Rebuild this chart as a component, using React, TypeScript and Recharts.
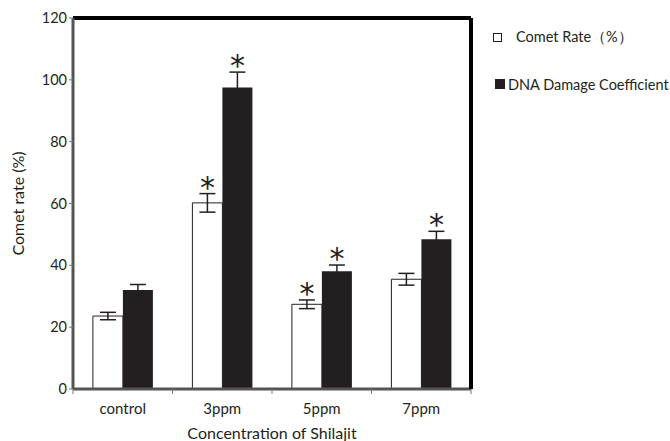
import { BarChart, Bar, XAxis, YAxis, ErrorBar, LabelList, ReferenceLine } from 'recharts';

const categories = ['control', '3ppm', '5ppm', '7ppm'];
const cometRate = [23.6, 60.2, 27.4, 35.5];
const cometErr = [1.2, 3, 1.4, 1.9];
const cometSig = [false, true, true, false];
const damage = [32, 97.5, 38.1, 48.4];
const damageErr = [1.8, 5, 2, 2.6];
const damageSig = [false, true, true, true];
const yTicks = [0, 20, 40, 60, 80, 100, 120];

const data = categories.map((name, i) => ({
  name,
  comet: cometRate[i],
  cometErr: cometErr[i],
  damage: damage[i],
  damageErr: damageErr[i],
}));

const INK = '#231f20';
const FONT = 'Lato, "Open Sans", sans-serif';
const BAND = 99.5;

const makeStar = (errs: number[], sig: boolean[]) => (props: any) => {
  const { x, y, width, height, value, index } = props;
  if (!sig[index] || value == null) return null;
  const errPx = (errs[index] * height) / value;
  return (
    <text x={x + width / 2} y={y - errPx + 4} textAnchor="middle" fontSize={30} fill={INK} fontFamily="DejaVu Sans">
      *
    </text>
  );
};

const CatTick = (props: any) => {
  const { x, y, payload, index } = props;
  return (
    <g>
      <line x1={x - BAND / 2} x2={x - BAND / 2} y1={y - 8} y2={y - 3} stroke="#777" />
      {index === categories.length - 1 && (
        <line x1={x + BAND / 2} x2={x + BAND / 2} y1={y - 8} y2={y - 3} stroke="#777" />
      )}
      <text x={x} y={y + 17} textAnchor="middle" fontSize={15} fill={INK} fontFamily={FONT}>
        {payload.value}
      </text>
    </g>
  );
};

const LegendBox = () => (
  <div style={{ position: 'absolute', left: 490, top: 28, fontFamily: FONT, fontSize: 14.5, color: INK }}>
    <div style={{ display: 'flex', alignItems: 'center', height: 18 }}>
      <span style={{ width: 7, height: 7, border: `1px solid ${INK}`, background: '#fff', marginRight: 14, marginLeft: 3 }} />
      <span>Comet Rate（%）</span>
    </div>
    <div style={{ display: 'flex', alignItems: 'center', height: 18, marginTop: 29 }}>
      <span style={{ width: 10, height: 10, background: INK, marginRight: 3, marginLeft: 5 }} />
      <span>DNA Damage Coefficient</span>
    </div>
  </div>
);

export default function App() {
  return (
    <div style={{ position: 'absolute', left: 0, top: 0, width: 670, height: 441, background: '#fff' }}>
      <BarChart
        width={670}
        height={441}
        data={data}
        margin={{ top: 18, right: 198, left: 0, bottom: 22 }}
        barCategoryGap="20%"
        barGap={0}
      >
        <XAxis
          dataKey="name"
          height={30}
          axisLine={{ stroke: '#555', strokeWidth: 3 }}
          tickLine={false}
          tick={<CatTick />}
          interval={0}
          label={{ value: 'Concentration of Shilajit', position: 'insideBottom', offset: -20, fill: INK, fontSize: 16, fontFamily: FONT }}
        />
        <YAxis
          domain={[0, 120]}
          ticks={yTicks}
          width={73}
          axisLine={{ stroke: '#555', strokeWidth: 3 }}
          tickLine={{ stroke: '#777' }}
          tickSize={4}
          tick={{ fill: INK, fontSize: 14.5, fontFamily: FONT }}
          label={{ value: 'Comet rate (%)', angle: -90, position: 'insideLeft', offset: 18, fill: INK, fontSize: 16, fontFamily: FONT, style: { textAnchor: 'middle' } }}
        />
        <YAxis
          yAxisId="right"
          orientation="right"
          type="number"
          domain={[0, 120]}
          ticks={yTicks}
          width={1}
          tick={false}
          tickLine={false}
          axisLine={{ stroke: '#000', strokeWidth: 4 }}
        />
        <ReferenceLine y={120} stroke="#000" strokeWidth={4} />
        <Bar dataKey="comet" fill="#fff" stroke={INK} strokeWidth={1} isAnimationActive={false}>
          <ErrorBar dataKey="cometErr" width={8} stroke={INK} strokeWidth={1.5} />
          <LabelList dataKey="comet" content={makeStar(cometErr, cometSig)} />
        </Bar>
        <Bar dataKey="damage" yAxisId="right" fill={INK} isAnimationActive={false}>
          <ErrorBar dataKey="damageErr" width={8} stroke={INK} strokeWidth={1.5} />
          <LabelList dataKey="damage" content={makeStar(damageErr, damageSig)} />
        </Bar>
      </BarChart>
      <LegendBox />
    </div>
  );
}
